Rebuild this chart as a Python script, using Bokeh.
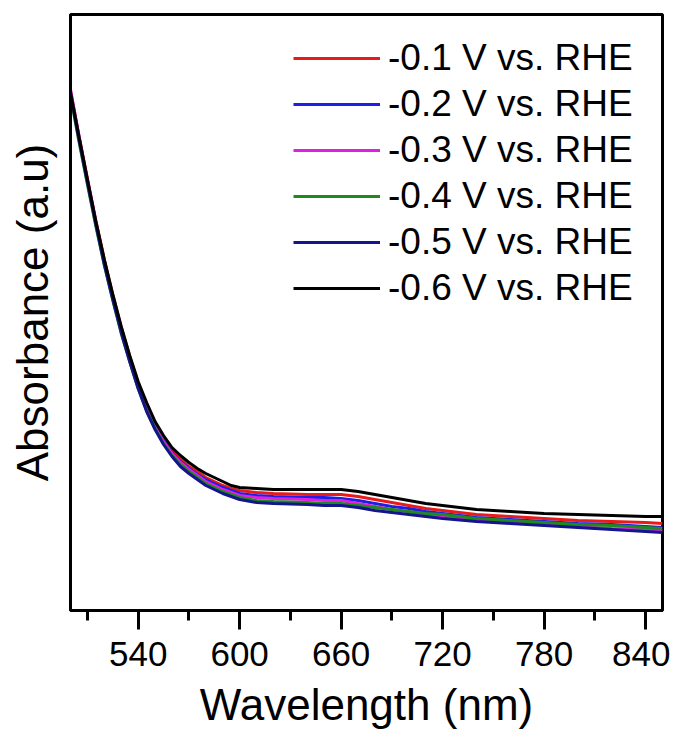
from bokeh.plotting import figure
from bokeh.models import FixedTicker, Legend, LegendItem, Range1d
from bokeh.embed import file_html
from bokeh.resources import INLINE

# Wavelength (nm)
wavelength = [500, 505, 510, 515, 520, 525, 530, 535, 540, 545,
              550, 555, 560, 565, 570, 575, 580, 585, 590, 595,
              600, 610, 620, 640, 650, 660, 670, 680, 690, 700,
              710, 720, 740, 760, 780, 800, 820, 840, 850]

# Absorbance (arbitrary units)
abs_m01 = [520, 475, 432, 390, 351, 316, 283, 254, 227, 205,
           187, 172, 160, 151, 144, 139, 133, 129, 125, 122,
           120, 118, 117, 116, 116, 116, 114, 111, 108, 105,
           102, 100, 96, 94, 92, 90, 89, 88, 87]
abs_m02 = [518, 473, 430, 388, 349, 314, 281, 252, 225, 203,
           185, 170, 158, 149, 142, 136, 131, 127, 123, 120,
           117, 115, 114, 113, 113, 112, 110, 107, 104, 102,
           99, 97, 93, 91, 89, 87, 86, 84, 83]
abs_m03 = [521, 474, 430, 388, 349, 313, 280, 251, 224, 202,
           184, 169, 157, 148, 141, 135, 129, 125, 121, 118,
           115, 113, 112, 111, 110, 110, 107, 104, 101, 99,
           96, 94, 90, 88, 86, 84, 82, 81, 80]
abs_m04 = [514, 469, 426, 384, 345, 310, 277, 249, 222, 200,
           182, 167, 155, 146, 139, 133, 127, 123, 119, 116,
           113, 110, 109, 108, 107, 107, 105, 103, 101, 99,
           97, 96, 92, 90, 88, 86, 85, 83, 82]
abs_m05 = [517, 471, 428, 386, 346, 311, 278, 249, 222, 199,
           181, 166, 154, 144, 137, 131, 125, 121, 117, 114,
           111, 108, 107, 106, 105, 105, 103, 100, 98, 96,
           94, 92, 89, 87, 85, 83, 81, 79, 78]
abs_m06 = [518, 474, 431, 389, 351, 316, 284, 255, 229, 208,
           189, 175, 163, 155, 148, 142, 137, 133, 129, 125,
           123, 122, 121, 121, 121, 121, 119, 116, 113, 110,
           107, 105, 101, 99, 97, 96, 95, 94, 94]

series_labels = ["-0.1 V vs. RHE", "-0.2 V vs. RHE", "-0.3 V vs. RHE",
                 "-0.4 V vs. RHE", "-0.5 V vs. RHE", "-0.6 V vs. RHE"]
series_values = [abs_m01, abs_m02, abs_m03, abs_m04, abs_m05, abs_m06]
series_colors = ["#E81A1A", "#1E1EE6", "#E020E0", "#1E8A1E", "#14148C", "#000000"]

major_ticks = [540, 600, 660, 720, 780, 840]
minor_ticks = [510, 570, 630, 690, 750, 810]

FONT = "Liberation Sans"

p = figure(width=670, height=723, output_backend="svg", toolbar_location=None,
           x_range=Range1d(500, 850), y_range=Range1d(0, 596),
           min_border_left=70, min_border_right=8, min_border_top=14, min_border_bottom=113)
p.frame_width = 592
p.frame_height = 596

p.grid.visible = False
p.outline_line_color = "black"
p.outline_line_width = 3
p.background_fill_color = "white"
p.border_fill_color = "white"

renderers = []
for vals, col in zip(series_values, series_colors):
    r = p.line(wavelength, vals, line_color=col, line_width=3)
    renderers.append(r)

# x axis
xa = p.xaxis[0]
xa.ticker = FixedTicker(ticks=major_ticks, minor_ticks=minor_ticks)
xa.axis_line_width = 3
xa.major_tick_line_width = 3
xa.minor_tick_line_width = 3
xa.major_tick_in = 0
xa.major_tick_out = 19
xa.minor_tick_in = 0
xa.minor_tick_out = 10
xa.major_label_text_font = FONT
xa.major_label_text_font_size = "35px"
xa.major_label_text_color = "black"
xa.major_label_standoff = 12
xa.axis_label = "Wavelength (nm)"
xa.axis_label_text_font = FONT
xa.axis_label_text_font_size = "44px"
xa.axis_label_text_font_style = "normal"
xa.axis_label_text_color = "black"
xa.axis_label_standoff = 11

# y axis
ya = p.yaxis[0]
ya.ticker = FixedTicker(ticks=[])
ya.axis_line_width = 3
ya.major_tick_line_color = None
ya.minor_tick_line_color = None
ya.major_label_text_font_size = "0px"
ya.axis_label = "Absorbance (a.u)"
ya.axis_label_text_font = FONT
ya.axis_label_text_font_size = "44px"
ya.axis_label_text_font_style = "normal"
ya.axis_label_text_color = "black"
ya.axis_label_standoff = 14

items = [LegendItem(label=lab, renderers=[r]) for lab, r in zip(series_labels, renderers)]
legend = Legend(items=items, location=(223, 301))
legend.background_fill_alpha = 0
legend.border_line_color = None
legend.label_text_font = FONT
legend.label_text_font_size = "37px"
legend.label_text_color = "black"
legend.glyph_width = 87
legend.glyph_height = 40
legend.label_height = 40
legend.label_standoff = 8
legend.spacing = 4
legend.padding = 0
legend.margin = 0
p.add_layout(legend)

open("out.html", "w").write(file_html(p, INLINE))
